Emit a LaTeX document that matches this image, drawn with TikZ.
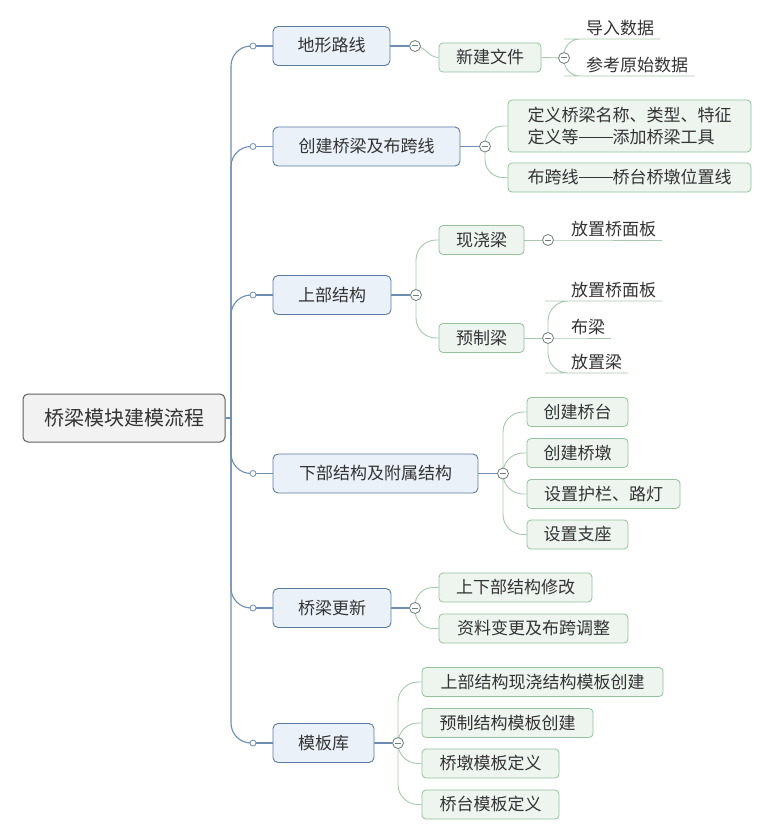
\documentclass[tikz,border=0pt]{standalone}
\usepackage{fontspec}
\setmainfont{Noto Sans CJK SC}
\definecolor{txt}{HTML}{333333}
\definecolor{rootb}{HTML}{5F5F5F}
\definecolor{rootf}{HTML}{F2F2F2}
\definecolor{blueb}{HTML}{5A7CA3}
\definecolor{bluef}{HTML}{EAF1F8}
\definecolor{greenb}{HTML}{93C29D}
\definecolor{greenf}{HTML}{EDF5EE}
\definecolor{spinec}{HTML}{6E8DB2}
\definecolor{greenl}{HTML}{A8C7AE}
\definecolor{minusc}{HTML}{6F7F76}
\newcommand{\dashpair}{\rule[0.34em]{2em}{0.06em}}
\pgfdeclarelayer{bg}
\pgfsetlayers{bg,main}
\begin{document}
\begin{tikzpicture}[x=1pt,y=-1pt,
  every node/.style={font=\fontsize{17}{22}\selectfont, text=txt},
  rootbox/.style={draw=rootb, fill=rootf, rounded corners=5, line width=1, minimum width=202, minimum height=48, font=\fontsize{20}{24}\selectfont, text height=17, text depth=3, inner xsep=0},
  lone/.style={draw=blueb, fill=bluef, rounded corners=5, line width=0.9, minimum height=39, text height=14.5, text depth=2.5, inner xsep=0},
  ltwobase/.style={draw=greenb, fill=greenf, rounded corners=4, line width=0.8, inner xsep=0},
  ltwo/.style={ltwobase, minimum height=29, text height=14.5, text depth=2.5},
  leaf/.style={inner xsep=6, inner ysep=2, text height=14.5, text depth=2.5, anchor=south west},
  spine/.style={draw=spinec, line width=1.1},
  gline/.style={draw=greenl, line width=0.9},
  dotc/.style={circle, draw=spinec, fill=white, line width=0.8, minimum size=6, inner sep=0},
  minusb/.style={circle, draw=minusc, fill=white, line width=0.8, minimum size=11, inner sep=0,
    path picture={\draw[minusc, line width=1] ([xshift=-2.8pt]path picture bounding box.center) -- ([xshift=2.8pt]path picture bounding box.center);}},
]
\useasboundingbox (0,0) rectangle (759,824);
\begin{pgfonlayer}{bg}
\fill[white] (0,0) rectangle (759,824);
\end{pgfonlayer}

% root
\node[rootbox] (root) at (124,418) {桥梁模块建模流程};
\coordinate (hub) at (231,418);

% level 1
\node[lone, minimum width=117] (t1) at (331.5,46) {地形路线};
\node[lone, minimum width=187] (t2) at (366.5,146.5) {创建桥梁及布跨线};
\node[lone, minimum width=118] (t3) at (332,295) {上部结构};
\node[lone, minimum width=205] (t4) at (375.5,473.5) {下部结构及附属结构};
\node[lone, minimum width=118] (t5) at (332,608) {桥梁更新};
\node[lone, minimum width=101] (t6) at (323.5,743) {模板库};

% dots on spine
\node[dotc] (d1) at (253,46) {};
\node[dotc] (d2) at (253,146.5) {};
\node[dotc] (d3) at (253,295) {};
\node[dotc] (d4) at (253,473.5) {};
\node[dotc] (d5) at (253,608) {};
\node[dotc] (d6) at (253,743) {};

% minus circles level 1
\node[minusb] (m1) at (415,46) {};
\node[minusb] (m2) at (485,146.5) {};
\node[minusb] (m3) at (416,295) {};
\node[minusb] (m4) at (503,473.5) {};
\node[minusb] (m5) at (415,608) {};
\node[minusb] (m6) at (398,743) {};

% level 2
\node[ltwo, minimum width=102] (a1) at (490,57.5) {新建文件};
\node[ltwobase, minimum width=243, minimum height=52, align=left] (b1) at (629.5,126) {定义桥梁名称、类型、特征\\定义等\dashpair 添加桥梁工具};
\node[ltwo, minimum width=243] (b2) at (629.5,177.5) {布跨线\dashpair 桥台桥墩位置线};
\node[ltwo, minimum width=85] (c1) at (481.5,240) {现浇梁};
\node[ltwo, minimum width=85] (c2) at (481.5,338) {预制梁};
\node[ltwo, minimum width=101] (e1) at (577.5,412) {创建桥台};
\node[ltwo, minimum width=101] (e2) at (577.5,453) {创建桥墩};
\node[ltwo, minimum width=153] (e3) at (603.5,494) {设置护栏、路灯};
\node[ltwo, minimum width=101] (e4) at (577.5,534.5) {设置支座};
\node[ltwo, minimum width=153] (f1) at (515.5,587.5) {上下部结构修改};
\node[ltwo, minimum width=189] (f2) at (533.5,628.5) {资料变更及布跨调整};
\node[ltwo, minimum width=241] (g1) at (542.5,682) {上部结构现浇结构模板创建};
\node[ltwo, minimum width=171] (g2) at (507.5,723) {预制结构模板创建};
\node[ltwo, minimum width=137] (g3) at (490.5,763.5) {桥墩模板定义};
\node[ltwo, minimum width=137] (g4) at (490.5,804.5) {桥台模板定义};

% minus circles level 2
\node[minusb] (ma) at (564,58) {};
\node[minusb] (mc1) at (548,240) {};
\node[minusb] (mc2) at (548,338) {};

% leaves
\node[leaf] (la1) at (580,39) {导入数据};
\node[leaf] (la2) at (580,76) {参考原始数据};
\node[leaf] (lc1) at (565,240) {放置桥面板};
\node[leaf] (ld1) at (565,301) {放置桥面板};
\node[leaf] (ld2) at (565,338) {布梁};
\node[leaf] (ld3) at (565,373) {放置梁};

\begin{pgfonlayer}{bg}
% spine connectors
\draw[spine] (root.east) -- (hub);
\foreach \d in {d1,d2,d3,d4,d5,d6}{
  \draw[spine, rounded corners=20] (hub) |- (\d.center);
}
\draw[spine] (d1) -- (t1.west);
\draw[spine] (d2) -- (t2.west);
\draw[spine] (d3) -- (t3.west);
\draw[spine] (d4) -- (t4.west);
\draw[spine] (d5) -- (t5.west);
\draw[spine] (d6) -- (t6.west);
\draw[spine] (t1.east) -- (m1);
\draw[spine] (t2.east) -- (m2);
\draw[spine] (t3.east) -- (m3);
\draw[spine] (t4.east) -- (m4);
\draw[spine] (t5.east) -- (m5);
\draw[spine] (t6.east) -- (m6);

% level-2 connectors
\draw[gline] (m1.center) to[out=0,in=180] (a1.west);
\draw[gline, rounded corners=18] (m2.center) |- (b1.west);
\draw[gline, rounded corners=18] (m2.center) |- (b2.west);
\draw[gline, rounded corners=20] (m3.center) |- (c1.west);
\draw[gline, rounded corners=20] (m3.center) |- (c2.west);
\draw[gline, rounded corners=20] (m4.center) |- (e1.west);
\draw[gline, rounded corners=20] (m4.center) |- (e2.west);
\draw[gline, rounded corners=20] (m4.center) |- (e3.west);
\draw[gline, rounded corners=20] (m4.center) |- (e4.west);
\draw[gline, rounded corners=18] (m5.center) |- (f1.west);
\draw[gline, rounded corners=18] (m5.center) |- (f2.west);
\draw[gline, rounded corners=20] (m6.center) |- (g1.west);
\draw[gline, rounded corners=20] (m6.center) |- (g2.west);
\draw[gline, rounded corners=20] (m6.center) |- (g3.west);
\draw[gline, rounded corners=20] (m6.center) |- (g4.west);

% leaf connectors
\draw[gline] (a1.east) -- (ma);
\draw[gline] (c1.east) -- (mc1);
\draw[gline] (c2.east) -- (mc2);
\draw[gline, rounded corners=16] (ma.center) |- (la1.south west) -- (la1.south east);
\draw[gline, rounded corners=16] (ma.center) |- (la2.south west) -- (la2.south east);
\draw[gline] (mc1.center) -- (lc1.south west) -- (lc1.south east);
\draw[gline, rounded corners=20] (mc2.center) |- (ld1.south west) -- (ld1.south east);
\draw[gline] (mc2.center) -- (ld2.south west) -- (ld2.south east);
\draw[gline, rounded corners=20] (mc2.center) |- (ld3.south west) -- (ld3.south east);
\end{pgfonlayer}
\end{tikzpicture}
\end{document}
